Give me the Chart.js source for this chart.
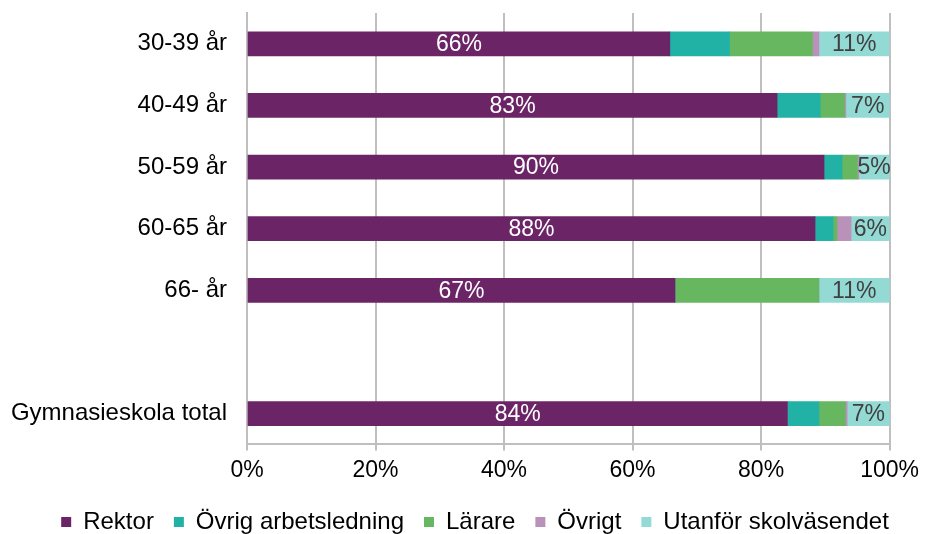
<!DOCTYPE html>
<html>
<head>
<meta charset="utf-8">
<script src="https://cdn.jsdelivr.net/npm/chart.js@4"></script>
<style>
  body { margin: 0; background: #fff; }
  #wrap { width: 925px; height: 534px; }
</style>
</head>
<body>
<div id="wrap"><canvas id="grafico"></canvas></div>
<script>
const kategorier = ['30-39 år', '40-49 år', '50-59 år', '60-65 år', '66- år', '', 'Gymnasieskola total'];
const rektor     = [65.8, 82.5, 89.8, 88.4, 66.6, null, 84.1];
const ovrigLed   = [9.3, 6.7, 2.8, 2.8, 0, null, 4.9];
const larare     = [12.9, 3.8, 2.4, 0.6, 22.4, null, 4.1];
const ovrigt     = [1.0, 0.2, 0.2, 2.2, 0, null, 0.3];
const utanfor    = [11.0, 6.8, 4.8, 6.0, 11.0, null, 6.6];
const rektorEtiketter  = ['66%', '83%', '90%', '88%', '67%', '', '84%'];
const utanforEtiketter = ['11%', '7%', '5%', '6%', '11%', '', '7%'];
const xTicks = [0, 20, 40, 60, 80, 100];

const typsnitt = '"Liberation Sans", Arial, sans-serif';

// etiketter i staplarna
const etikettPlugin = {
    id: 'etiketter',
    afterDatasetsDraw(chart) {
        const ctx = chart.ctx;
        ctx.save();
        ctx.font = '23px ' + typsnitt;
        ctx.textAlign = 'center';
        ctx.textBaseline = 'middle';
        const rader = [[0, rektorEtiketter, '#ffffff'], [4, utanforEtiketter, '#404040']];
        for (const [ds, texter, farg] of rader) {
            const meta = chart.getDatasetMeta(ds);
            meta.data.forEach((bar, i) => {
                if (!texter[i]) return;
                const p = bar.getProps(['x', 'base', 'y'], true);
                ctx.fillStyle = farg;
                ctx.fillText(texter[i], (p.x + p.base) / 2, p.y + 1);
            });
        }
        ctx.restore();
    }
};

// legenden på en rad, över hela bredden
const legendPlugin = {
    id: 'legendFlytt',
    afterInit(chart) {
        const legend = chart.legend;
        const orig = legend.fit;
        legend.fit = function () {
            this.maxWidth = chart.width;
            orig.call(this);
            this.height -= 10;
        };
    },
    afterLayout(chart) {
        const legend = chart.legend;
        legend.left = 25;
        legend.right = chart.width;
        legend.width = chart.width - 25;
    }
};

const ctx = document.getElementById('grafico').getContext('2d');
new Chart(ctx, {
    type: 'bar',
    data: {
        labels: kategorier,
        datasets: [
            { label: 'Rektor', data: rektor, backgroundColor: '#6B2567' },
            { label: 'Övrig arbetsledning', data: ovrigLed, backgroundColor: '#22B1A5' },
            { label: 'Lärare', data: larare, backgroundColor: '#66B760' },
            { label: 'Övrigt', data: ovrigt, backgroundColor: '#B991B9' },
            { label: 'Utanför skolväsendet', data: utanfor, backgroundColor: '#93DAD5' }
        ]
    },
    options: {
        indexAxis: 'y',
        responsive: true,
        maintainAspectRatio: false,
        animation: false,
        layout: { padding: { top: 13, right: 32, left: 11, bottom: 0 } },
        datasets: { bar: { barThickness: 24, borderWidth: 0 } },
        scales: {
            x: {
                stacked: true,
                min: 0,
                max: 100,
                afterBuildTicks: axis => { axis.ticks = xTicks.map(v => ({ value: v })); },
                ticks: {
                    callback: v => v + '%',
                    color: '#000',
                    font: { family: typsnitt, size: 23 },
                    padding: 6
                },
                grid: { color: '#BFBFBF', lineWidth: 2, tickLength: 6 },
                border: { color: '#BFBFBF', width: 2 }
            },
            y: {
                stacked: true,
                afterFit: scale => {
                    scale.paddingTop = 0;
                    scale.paddingBottom = 0;
                    scale.width = 236;
                },
                ticks: {
                    color: '#000',
                    font: { family: typsnitt, size: 24 },
                    padding: 20
                },
                grid: { display: false, drawTicks: false },
                border: { color: '#BFBFBF', width: 2 }
            }
        },
        plugins: {
            legend: {
                position: 'bottom',
                labels: {
                    boxWidth: 10,
                    boxHeight: 10,
                    padding: 20,
                    color: '#000',
                    font: { family: typsnitt, size: 24 }
                }
            },
            tooltip: { enabled: false }
        }
    },
    plugins: [etikettPlugin, legendPlugin]
});
</script>
</body>
</html>
